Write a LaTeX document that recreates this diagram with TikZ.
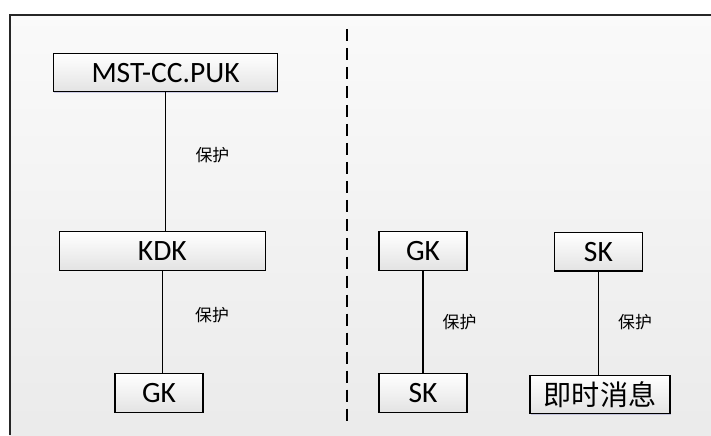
\documentclass[tikz,border=0pt]{standalone}
\usepackage{fontspec}
\setmainfont{Carlito}
\newfontfamily\cjk{Noto Sans CJK SC}
\usetikzlibrary{shadows}

\begin{document}
\begin{tikzpicture}[
	keybox/.style={draw=black, line width=0.8pt, inner sep=0pt, minimum height=0.96cm,
		top color=white, bottom color=gray!22,
		drop shadow={shadow xshift=0.6pt, shadow yshift=-0.6pt, opacity=0.25, fill=blue!40!gray},
		font=\fontsize{21}{25}\selectfont},
	protlabel/.style={font=\cjk\fontsize{12}{14}\selectfont}
	]
				\useasboundingbox (0,0) rectangle (17.775,10.875);
				
				% Background and frame
				\shade[top color=gray!4, bottom color=gray!16] (0.24,0) rectangle (17.775,10.5);
				\draw[line width=1.4pt, black!85] (0.24,0) -- (0.24,10.5) -- (17.775,10.5);
				
				% Separator
				\draw[line width=0.9pt, dash pattern=on 8.5pt off 5pt] (8.675,10.15) -- (8.675,0.25);
				
				% Boxes (left)
				\node[keybox, minimum width=5.6cm] (puk) at (4.14, 9.06) {MST-CC.PUK};
				\node[keybox, minimum width=5.15cm] (kdk) at (4.06, 4.6) {KDK};
				\node[keybox, minimum width=2.2cm] (gkl) at (3.975, 1.05) {GK};
				
				% Boxes (right)
				\node[keybox, minimum width=2.2cm] (gkr) at (10.575, 4.6) {GK};
				\node[keybox, minimum width=2.2cm] (skb) at (10.575, 1.05) {SK};
				\node[keybox, minimum width=2.2cm] (skt) at (14.96, 4.58) {SK};
				\node[keybox, minimum width=3.5cm, font=\cjk\fontsize{20}{24}\selectfont] (msg) at (15.0, 1.01) {即时消息};
				
				% Lines
				\draw[line width=0.8pt] (puk.south) -- (puk.south |- kdk.north); % MST-CC.PUK to KDK
				\draw[line width=0.8pt] (kdk.south) -- (kdk.south |- gkl.north); % KDK to GK
				\draw[line width=0.8pt] (gkr.south) -- (skb.north); % GK to SK
				\draw[line width=0.8pt] (skt.south) -- (skt.south |- msg.north); % SK to message
				
				% Labels
				\node[protlabel] (p1) at (5.31, 7.0) {保护};
				\node[protlabel] (p2) at (5.30, 3.0) {保护};
				\node[protlabel] (p3) at (11.49, 2.83) {保护};
				\node[protlabel] (p4) at (15.875, 2.83) {保护};
			\end{tikzpicture}
\end{document}
